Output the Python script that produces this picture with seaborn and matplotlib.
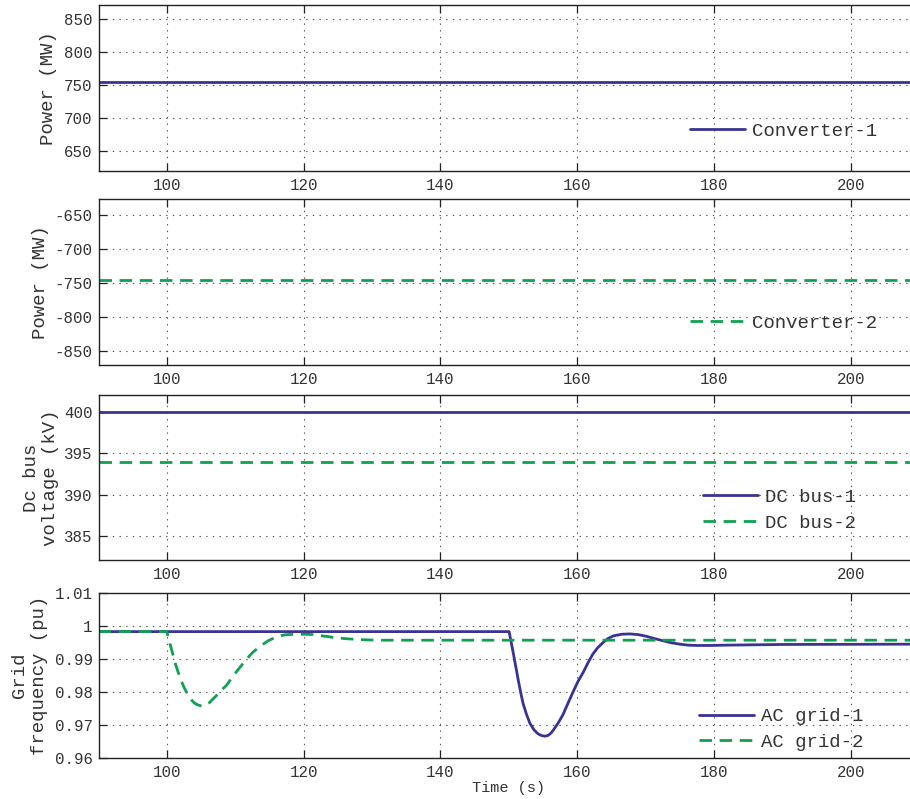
import matplotlib
matplotlib.use("Agg")
import matplotlib.pyplot as plt
import seaborn as sns

# ---- data -------------------------------------------------------------
t_flat = [90, 210]
conv1_power = [755, 755]          # MW
conv2_power = [-745, -745]        # MW
dc_bus1 = [400.0, 400.0]          # kV
dc_bus2 = [393.9, 393.9]          # kV

ac1_t = [90, 150.05, 150.6, 151.0, 151.4, 151.8, 152.1, 152.6, 153.1, 153.7,
         154.3, 154.8, 155.3, 155.8, 156.2, 156.5, 157.2, 157.9, 158.6, 159.4,
         160.1, 160.9, 161.6, 162.3, 163.0, 163.8, 164.5, 165.3, 166.5, 167.7,
         168.9, 170.1, 171.3, 172.6, 173.8, 175.0, 176.2, 177.4, 179.5, 181.8,
         190, 210]
ac1_v = [0.9983, 0.9983, 0.9925, 0.9880, 0.9835, 0.9793, 0.9765, 0.9732, 0.9705, 0.9685,
         0.9673, 0.9668, 0.9666, 0.9669, 0.9676, 0.9684, 0.9705, 0.9730, 0.9763, 0.9800,
         0.9831, 0.9860, 0.9889, 0.9915, 0.9934, 0.9950, 0.9962, 0.9970, 0.9975, 0.9976,
         0.9974, 0.9969, 0.9962, 0.9955, 0.9949, 0.9945, 0.9942, 0.9941, 0.9941, 0.9942,
         0.9944, 0.9945]

ac2_t = [90, 100.0, 100.25, 100.6, 100.9, 101.25, 101.65, 102.1, 102.6, 103.1,
         103.6, 104.0, 104.4, 105.1, 105.8, 106.2, 106.6, 107.1, 107.6, 108.1,
         108.7, 109.2, 109.7, 110.2, 110.7, 111.4, 112.1, 112.6, 113.2, 113.7,
         114.3, 114.8, 115.4, 116.0, 116.5, 117.2, 117.8, 119.0, 120.2, 121.4,
         122.4, 123.5, 124.4, 125.3, 126.6, 128.0, 129.3, 130.7, 140, 210]
ac2_v = [0.9983, 0.9983, 0.9962, 0.9935, 0.9912, 0.9885, 0.9860, 0.9834, 0.9810, 0.9791,
         0.9776, 0.9767, 0.9762, 0.9757, 0.9761, 0.9767, 0.9776, 0.9786, 0.9797, 0.9808,
         0.9820, 0.9834, 0.9848, 0.9862, 0.9875, 0.9893, 0.9910, 0.9921, 0.9931, 0.9940,
         0.9948, 0.9955, 0.9961, 0.9966, 0.9970, 0.9973, 0.9974, 0.9975, 0.9975, 0.9974,
         0.9971, 0.9968, 0.9965, 0.9963, 0.9961, 0.9959, 0.9958, 0.9957, 0.9957, 0.9957]

x_ticks = [100, 120, 140, 160, 180, 200]

BLUE = "#3a3392"
GREEN = "#10a150"

# ---- style ------------------------------------------------------------
sns.set_theme(style="white")
plt.rcParams["font.family"] = ["Liberation Mono", "DejaVu Sans Mono"]
plt.rcParams["lines.scale_dashes"] = False
plt.rcParams["axes.unicode_minus"] = False

W, H = 910, 799
fig = plt.figure(figsize=(W / 100, H / 100), dpi=100)

LEFT, RIGHT = 98.5, 919.0
panels = [(5, 171), (199, 365), (395, 560), (593, 758)]


def make_axes(top, bottom):
    return fig.add_axes([LEFT / W, 1 - bottom / H, (RIGHT - LEFT) / W, (bottom - top) / H])


axes = [make_axes(t, b) for t, b in panels]

TICK_FS = 11.3
LABEL_FS = 13.7
DASHES = (9, 5.5)


def style_axes(ax, yticks, ylim, ylabel, label_x_px, ylabels=None):
    ax.set_xlim(90, 210)
    ax.set_ylim(*ylim)
    ax.set_xticks(x_ticks)
    ax.set_yticks(yticks)
    if ylabels is not None:
        ax.set_yticklabels(ylabels)
    ax.grid(True, color="#555555", linestyle=(0, (1, 3.8)), linewidth=0.8)
    ax.tick_params(axis="both", direction="in", length=5.5, width=0.9,
                   color="#222222", labelsize=TICK_FS, labelcolor="#333333",
                   top=True, bottom=True, left=True, right=False)
    ax.tick_params(axis="x", pad=5)
    ax.tick_params(axis="y", pad=4.3)
    for sp in ax.spines.values():
        sp.set_color("#222222")
        sp.set_linewidth(1.0)
    ax.spines["right"].set_visible(False)
    ax.set_xlabel("")
    ax.set_ylabel(ylabel, fontsize=LABEL_FS, color="#333333", va="center",
                  linespacing=1.2)
    ax.yaxis.set_label_coords((label_x_px - LEFT) / (RIGHT - LEFT), 0.5)


def add_legend(ax, x_px, y_px):
    ax.legend(loc="center left", bbox_to_anchor=(x_px / W, 1 - y_px / H),
              bbox_transform=fig.transFigure, frameon=False, borderpad=0,
              borderaxespad=0, handlelength=2.9, handletextpad=0.35,
              labelspacing=0.45, fontsize=LABEL_FS, labelcolor="#333333")


def draw(ax, x, y, color, label, dashed=False):
    sns.lineplot(x=x, y=y, ax=ax, color=color, label=label, linewidth=2.0,
                 estimator=None, sort=False)
    line = ax.get_lines()[-1]
    if dashed:
        line.set_dashes(DASHES)
    return line


# Converter-1 power
ax = axes[0]
draw(ax, t_flat, conv1_power, BLUE, "Converter-1")
style_axes(ax, [650, 700, 750, 800, 850], (620, 871), "Power (MW)", 48.5)
add_legend(ax, 690, 131)

# Converter-2 power
ax = axes[1]
draw(ax, t_flat, conv2_power, GREEN, "Converter-2", dashed=True)
style_axes(ax, [-850, -800, -750, -700, -650], (-870.6, -626.5), "Power (MW)", 41)
add_legend(ax, 690, 323)

# DC bus voltages
ax = axes[2]
draw(ax, t_flat, dc_bus1, BLUE, "DC bus-1")
draw(ax, t_flat, dc_bus2, GREEN, "DC bus-2", dashed=True)
style_axes(ax, [385, 390, 395, 400], (382.05, 402.1), "Dc bus\nvoltage (kV)", 41)
add_legend(ax, 703, 510)

# AC grid frequencies
ax = axes[3]
draw(ax, ac1_t, ac1_v, BLUE, "AC grid-1")
draw(ax, ac2_t, ac2_v, GREEN, "AC grid-2", dashed=True)
fticks = [0.96, 0.97, 0.98, 0.99, 1.00, 1.01]
style_axes(ax, fticks, (0.96, 1.01), "Grid\nfrequency (pu)", 29.5,
           ylabels=[f"{v:g}" for v in fticks])
ax.set_xlabel("Time (s)", fontsize=11, color="#333333", labelpad=1)
add_legend(ax, 699, 729.5)

fig.savefig("out.png", dpi=100)
